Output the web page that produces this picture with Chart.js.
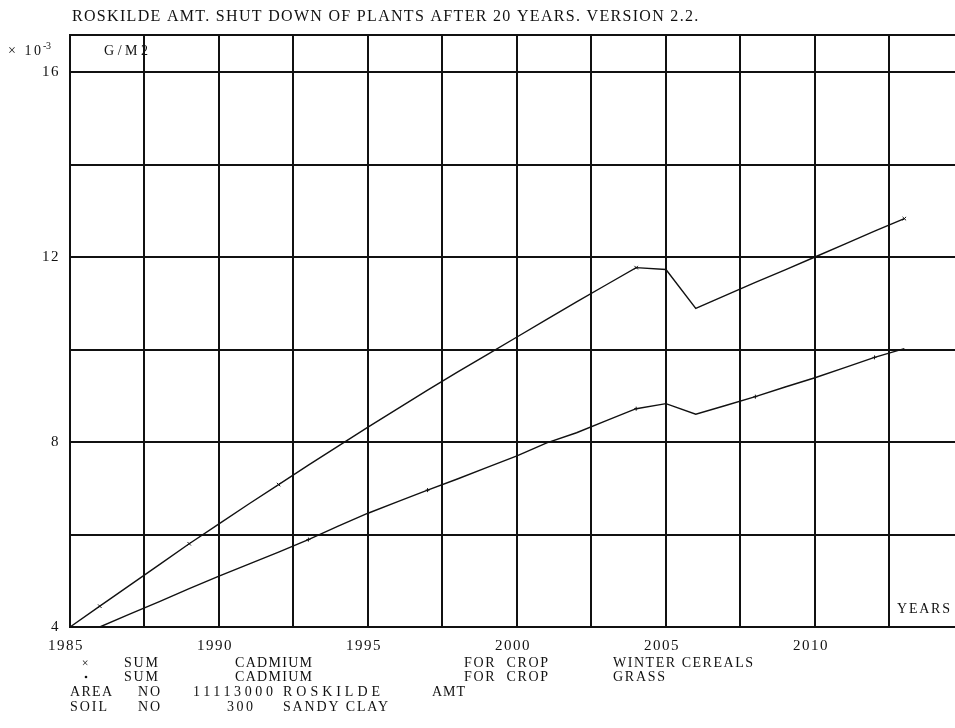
<!DOCTYPE html>
<html>
<head>
<meta charset="utf-8">
<script src="https://cdn.jsdelivr.net/npm/chart.js@4/dist/chart.umd.min.js"></script>
<style>
  html, body { margin: 0; padding: 0; background: #fff; }
  #wrap { width: 955px; height: 728px; position: relative; }
  canvas { display: block; }
</style>
</head>
<body>
<div id="wrap"><canvas id="chart" width="955" height="728"></canvas></div>
<script>
// Accumulated cadmium, 10^-3 g/m2, per year
const years = [1985, 1986, 1987, 1988, 1989, 1990, 1991, 1992, 1993, 1994,
               1995, 1996, 1997, 1998, 1999, 2000, 2001, 2002, 2003, 2004,
               2005, 2006, 2007, 2008, 2009, 2010, 2011, 2012, 2013];
// SUM CADMIUM FOR CROP WINTER CEREALS
const cadmiumWinterCereals = [4.00, 4.45, 4.90, 5.35, 5.80, 6.23, 6.66, 7.08, 7.50, 7.91,
                              8.32, 8.72, 9.12, 9.51, 9.89, 10.27, 10.65, 11.03, 11.40, 11.77,
                              11.73, 10.89, 11.17, 11.45, 11.72, 12.00, 12.28, 12.56, 12.83];
// SUM CADMIUM FOR CROP GRASS
const cadmiumGrass = [null, 4.00, 4.28, 4.55, 4.83, 5.10, 5.36, 5.62, 5.89, 6.18,
                      6.46, 6.71, 6.96, 7.20, 7.45, 7.70, 7.98, 8.20, 8.46, 8.72,
                      8.83, 8.60, 8.79, 8.98, 9.19, 9.39, 9.61, 9.83, 10.02];
// Years that carry a plotted symbol on each curve
const cerealsMarkerYears = [1986, 1989, 1992, 2004, 2013];
const grassMarkerYears = [1993, 1997, 2004, 2008, 2012];

const xLabelYears = [1985, 1990, 1995, 2000, 2005, 2010];
const yLabelValues = [4, 8, 12, 16];

const titleText = 'ROSKILDE AMT. SHUT DOWN OF PLANTS AFTER 20 YEARS. VERSION 2.2.';
const unitText = 'G/M2';
const axisNameX = 'YEARS';

const SERIF = '"Liberation Serif", "DejaVu Serif", serif';

// Draw text stretched to a given width by spreading the letters
function spacedText(ctx, text, x, y, width, size) {
  ctx.save();
  ctx.font = size + 'px ' + SERIF;
  ctx.textAlign = 'left';
  ctx.textBaseline = 'alphabetic';
  ctx.fillStyle = '#111';
  if ('letterSpacing' in ctx) {
    ctx.letterSpacing = '0px';
    const natural = ctx.measureText(text).width;
    const gap = text.length > 1 ? (width - natural) / (text.length - 1) : 0;
    ctx.letterSpacing = gap.toFixed(2) + 'px';
    ctx.fillText(text, x, y);
  } else {
    const natural = ctx.measureText(text).width;
    ctx.translate(x, y);
    ctx.scale(width / natural, 1);
    ctx.fillText(text, 0, 0);
  }
  ctx.restore();
}

const annotations = {
  id: 'annotations',
  beforeDraw(chart) {
    if ('letterSpacing' in chart.ctx) chart.ctx.letterSpacing = '1.5px';
  },
  afterDraw(chart) {
    const ctx = chart.ctx;
    // heading
    spacedText(ctx, titleText, 72, 21, 626, 16);
    // multiplier and unit
    spacedText(ctx, '\u00d7 10', 8, 55, 33, 14);
    spacedText(ctx, '-3', 43, 49, 8, 10);
    spacedText(ctx, unitText, 104, 55, 44, 14);
    // axis name
    spacedText(ctx, axisNameX, 897, 613, 53, 14);

    // series key and site description
    const rows = [667, 681, 696, 711];
    ctx.save();
    ctx.fillStyle = '#111';
    ctx.font = '12px ' + SERIF;
    ctx.textAlign = 'center';
    ctx.fillText('\u00d7', 86, rows[0]);
    ctx.beginPath();
    ctx.arc(86, rows[1] - 4, 1.3, 0, Math.PI * 2);
    ctx.fill();
    ctx.restore();
    const fs = 14;
    spacedText(ctx, 'SUM', 124, rows[0], 34, fs);
    spacedText(ctx, 'CADMIUM', 235, rows[0], 77, fs);
    spacedText(ctx, 'FOR  CROP', 464, rows[0], 84, fs);
    spacedText(ctx, 'WINTER CEREALS', 613, rows[0], 140, fs);
    spacedText(ctx, 'SUM', 124, rows[1], 34, fs);
    spacedText(ctx, 'CADMIUM', 235, rows[1], 77, fs);
    spacedText(ctx, 'FOR  CROP', 464, rows[1], 84, fs);
    spacedText(ctx, 'GRASS', 613, rows[1], 52, fs);
    spacedText(ctx, 'AREA', 70, rows[2], 42, fs);
    spacedText(ctx, 'NO', 138, rows[2], 22, fs);
    spacedText(ctx, '11113000', 193, rows[2], 80, fs);
    spacedText(ctx, 'ROSKILDE', 283, rows[2], 97, fs);
    spacedText(ctx, 'AMT', 432, rows[2], 33, fs);
    spacedText(ctx, 'SOIL', 70, rows[3], 37, fs);
    spacedText(ctx, 'NO', 138, rows[3], 22, fs);
    spacedText(ctx, '300', 227, rows[3], 26, fs);
    spacedText(ctx, 'SANDY CLAY', 283, rows[3], 105, fs);
  }
};

const toPoints = (vals) => years.map((y, i) => ({ x: y, y: vals[i] }));
const markerRadius = (list, r) => (c) => (c.raw && list.includes(c.raw.x)) ? r : 0;

const LAST_GRID_YEAR = 2012.5;
const onGrid = (v) => Math.abs((v - 1985) / 2.5 - Math.round((v - 1985) / 2.5)) < 0.01;

new Chart(document.getElementById('chart'), {
  type: 'line',
  data: {
    datasets: [
      {
        label: 'SUM CADMIUM FOR CROP WINTER CEREALS',
        data: toPoints(cadmiumWinterCereals),
        borderColor: '#111',
        borderWidth: 1.4,
        pointStyle: 'crossRot',
        pointRadius: markerRadius(cerealsMarkerYears, 2.5),
        pointBorderColor: '#111',
        pointBorderWidth: 1,
        tension: 0,
        fill: false
      },
      {
        label: 'SUM CADMIUM FOR CROP GRASS',
        data: toPoints(cadmiumGrass),
        borderColor: '#111',
        borderWidth: 1.4,
        pointStyle: 'cross',
        pointRadius: markerRadius(grassMarkerYears, 2),
        pointBorderColor: '#111',
        pointBorderWidth: 1,
        tension: 0,
        fill: false,
        spanGaps: false
      }
    ]
  },
  options: {
    responsive: false,
    animation: false,
    devicePixelRatio: 1,
    layout: { autoPadding: false, padding: { top: 35, right: 0, left: 0, bottom: 0 } },
    plugins: {
      legend: { display: false },
      tooltip: { enabled: false },
      title: { display: false }
    },
    scales: {
      x: {
        type: 'linear',
        min: 1985,
        max: 2014.7,
        afterFit: (s) => { s.height = 101; s.paddingLeft = 0; s.paddingRight = 0; },
        border: { display: true, color: '#111', width: 2 },
        grid: {
          drawTicks: false,
          lineWidth: 2,
          color: (c) => (c.tick && c.tick.value <= LAST_GRID_YEAR + 0.01 && onGrid(c.tick.value))
                         ? '#111' : 'rgba(0,0,0,0)'
        },
        ticks: {
          stepSize: 2.5,
          includeBounds: false,
          autoSkip: false,
          maxRotation: 0,
          padding: 10,
          labelOffset: -4,
          color: '#111',
          font: { family: SERIF, size: 15 },
          callback: (v) => xLabelYears.includes(v) ? String(v) : ''
        }
      },
      y: {
        type: 'linear',
        min: 4,
        max: 16.8,
        afterFit: (s) => { s.width = 70; s.paddingTop = 0; s.paddingBottom = 0; },
        border: { display: true, color: '#111', width: 2 },
        grid: {
          drawTicks: false,
          lineWidth: 2,
          color: '#111'
        },
        ticks: {
          stepSize: 2,
          padding: 10,
          color: '#111',
          font: { family: SERIF, size: 15 },
          callback: (v) => yLabelValues.includes(v) ? String(v) : ''
        }
      }
    }
  },
  plugins: [annotations]
});
</script>
</body>
</html>
